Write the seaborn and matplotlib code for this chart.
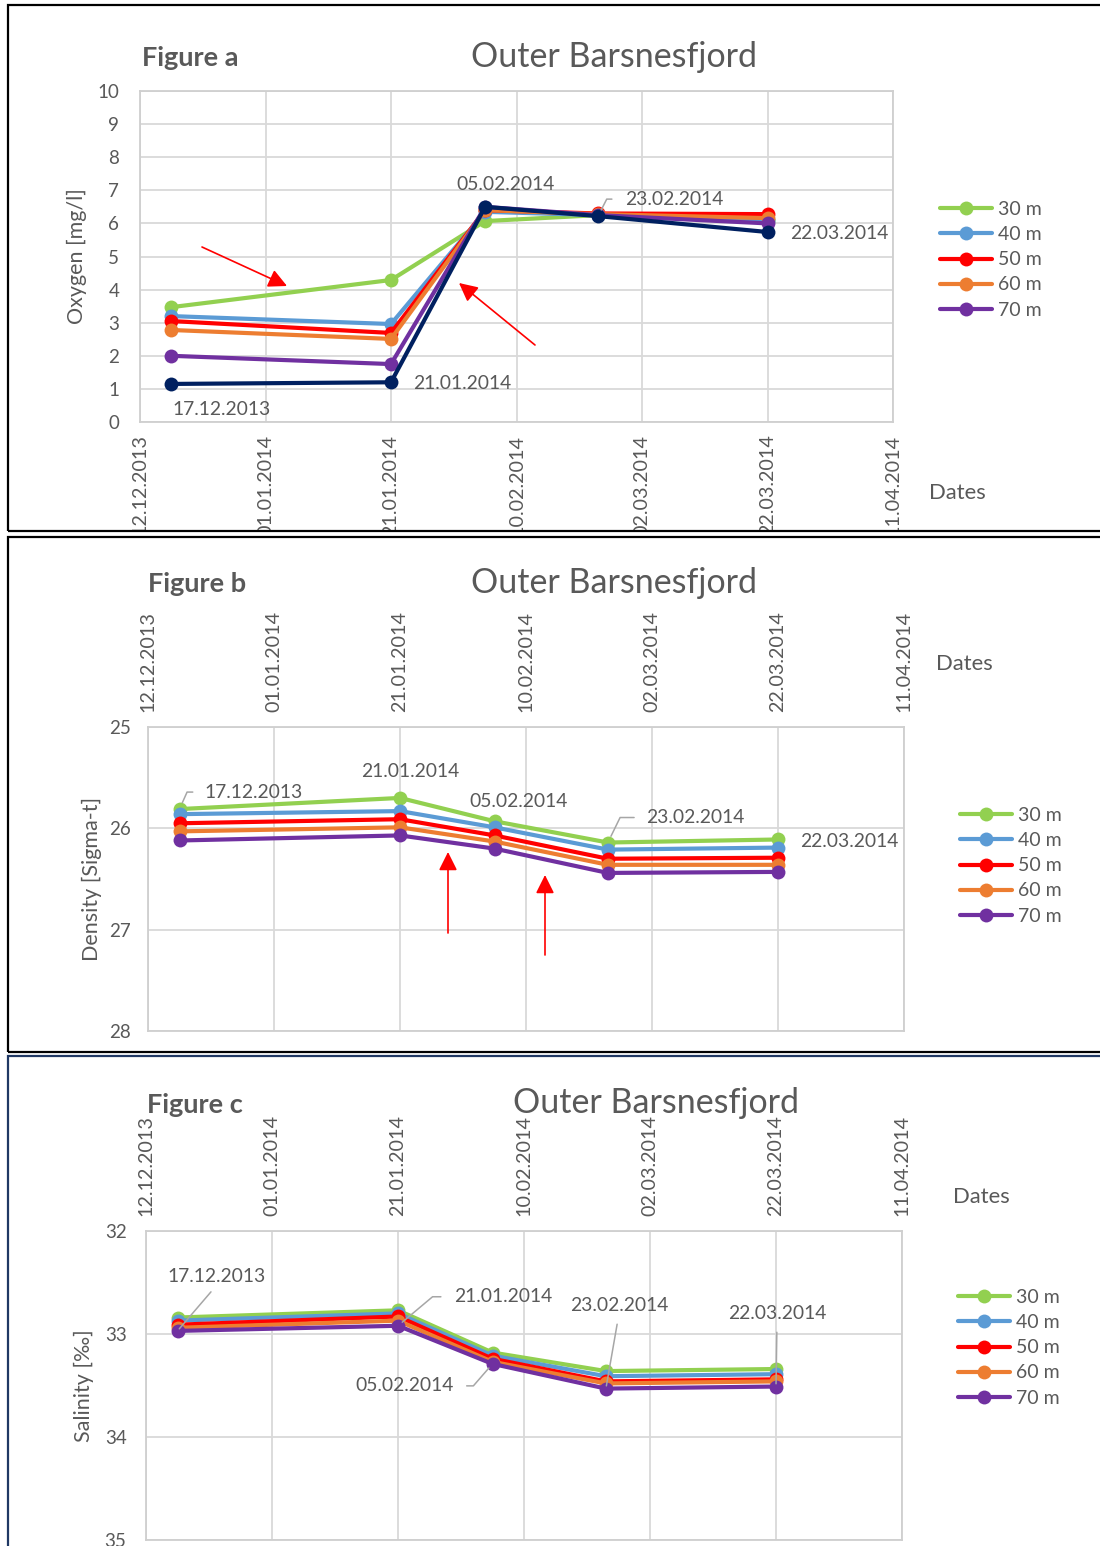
import matplotlib
matplotlib.use("Agg")
import matplotlib.pyplot as plt
import matplotlib.dates as mdates
from matplotlib.lines import Line2D
from matplotlib.patches import Rectangle, FancyArrowPatch
from matplotlib.transforms import Bbox, TransformedBbox
import seaborn as sns
import pandas as pd

# ---------------------------------------------------------------- data
sampling_dates = pd.to_datetime(["2013-12-17", "2014-01-21", "2014-02-05",
                                 "2014-02-23", "2014-03-22"])
date_labels = ["17.12.2013", "21.01.2014", "05.02.2014", "23.02.2014", "22.03.2014"]
axis_ticks = pd.date_range("2013-12-12", periods=7, freq="20D")

depths = ["30 m", "40 m", "50 m", "60 m", "70 m"]

# Oxygen [mg/l]
oxygen_30 = [3.47, 4.29, 6.07, 6.25, 6.10]
oxygen_40 = [3.20, 2.96, 6.35, 6.25, 6.10]
oxygen_50 = [3.05, 2.69, 6.40, 6.30, 6.28]
oxygen_60 = [2.78, 2.51, 6.40, 6.28, 6.16]
oxygen_70 = [2.00, 1.75, 6.50, 6.25, 6.00]
oxygen_deep = [1.15, 1.20, 6.50, 6.22, 5.74]

# Density [Sigma-t]
density_30 = [25.81, 25.70, 25.93, 26.14, 26.11]
density_40 = [25.86, 25.83, 25.99, 26.21, 26.19]
density_50 = [25.95, 25.91, 26.07, 26.30, 26.29]
density_60 = [26.03, 25.99, 26.13, 26.36, 26.36]
density_70 = [26.12, 26.07, 26.20, 26.44, 26.43]

# Salinity [‰]
salinity_30 = [32.84, 32.77, 33.18, 33.36, 33.34]
salinity_40 = [32.87, 32.80, 33.21, 33.41, 33.39]
salinity_50 = [32.91, 32.83, 33.24, 33.46, 33.44]
salinity_60 = [32.94, 32.87, 33.27, 33.48, 33.46]
salinity_70 = [32.97, 32.92, 33.29, 33.53, 33.51]

# ---------------------------------------------------------------- style
W, H = 1100, 1546
TEXT = "#595959"
GRID = "#D9D9D9"
depth_colors = ["#92D050", "#5B9BD5", "#FF0000", "#ED7D31", "#7030A0"]
deep_color = "#002060"
palette = dict(zip(depths, depth_colors))

sns.set_style("white")
plt.rcParams["font.family"] = ["Lato", "DejaVu Sans"]

fig = plt.figure(figsize=(W / 100, H / 100), dpi=100)


def fpos(x, y):
    """Pixel position (from top-left) to figure fraction."""
    return (x / W, 1 - y / H)


def rect(l, t, r, b):
    return [l / W, 1 - b / H, (r - l) / W, (b - t) / H]


def long_frame(series):
    rows = []
    for depth, vals in zip(depths, series):
        for d, v in zip(sampling_dates, vals):
            rows.append({"date": d, "value": v, "depth": depth})
    return pd.DataFrame(rows)


def draw_series(ax, series, extra=None):
    df = long_frame(series)
    sns.lineplot(data=df, x="date", y="value", hue="depth", hue_order=depths,
                 palette=palette, marker="o", markersize=10, markeredgewidth=0,
                 linewidth=3, estimator=None, legend=False, ax=ax, zorder=3)
    if extra is not None:
        dfx = pd.DataFrame({"date": sampling_dates, "value": extra})
        sns.lineplot(data=dfx, x="date", y="value", color=deep_color, marker="o",
                     markersize=10, markeredgewidth=0, linewidth=3,
                     estimator=None, legend=False, ax=ax, zorder=4)


def style_axes(ax, ylim, yticks, top_axis, xpad, ypad):
    ax.set_xlim(axis_ticks[0], axis_ticks[-1])
    ax.set_ylim(*ylim)
    ax.set_xticks(axis_ticks)
    ax.xaxis.set_major_formatter(mdates.DateFormatter("%d.%m.%Y"))
    ax.set_yticks(yticks)
    ax.grid(True, color=GRID, lw=1.3)
    ax.set_axisbelow(True)
    for s in ax.spines.values():
        s.set_color("#CFCFCF")
        s.set_linewidth(1.3)
    if top_axis:
        ax.xaxis.tick_top()
    ax.tick_params(axis="x", length=0, pad=xpad, labelsize=14.2, labelcolor=TEXT,
                   labelrotation=90)
    ax.tick_params(axis="y", length=0, pad=ypad, labelsize=13.5, labelcolor=TEXT)
    ax.set_xlabel("")


def point_label(ax, text, date, value, dx, dy, leader=None):
    """Date label placed dx, dy pixels (dy downward) from its point."""
    kw = dict(xy=(date, value), xytext=(dx, -dy), textcoords="offset pixels",
              ha="center", va="center", fontsize=13.9, color=TEXT, zorder=6)
    if leader is not None:
        conn, relpos, sa, sb = leader
        kw["arrowprops"] = dict(arrowstyle="-", color="#A6A6A6", lw=1.1,
                                connectionstyle=conn, relpos=relpos,
                                shrinkA=sa, shrinkB=sb)
    ax.annotate(text, **kw)


def red_arrow(tail, tip):
    fig.add_artist(FancyArrowPatch(
        fpos(*tail), fpos(*tip), transform=fig.transFigure,
        arrowstyle="-|>", color="red", lw=1.2, mutation_scale=28,
        shrinkA=0, shrinkB=0, zorder=8))


def legend_at(x, y):
    handles = [Line2D([], [], color=c, lw=3, marker="o", markersize=10,
                      markeredgewidth=0) for c in depth_colors]
    fig.legend(handles, depths, loc="upper left", bbox_to_anchor=fpos(x, y),
               bbox_transform=fig.transFigure, frameon=False, fontsize=14,
               labelcolor=TEXT, handlelength=2.65, handletextpad=0.35,
               labelspacing=0.42, borderpad=0, borderaxespad=0)


def headings(letter, fig_x, fig_y, title_x, title_y, dates_x, dates_y):
    fig.text(*fpos(fig_x, fig_y), f"Figure {letter}", fontsize=19.5,
             fontweight="bold", color=TEXT, ha="left", va="center")
    fig.text(*fpos(title_x, title_y), "Outer Barsnesfjord", fontsize=24.5,
             color=TEXT, ha="center", va="center")
    fig.text(*fpos(dates_x, dates_y), "Dates", fontsize=15.8, color=TEXT,
             ha="center", va="center")


# ---------------------------------------------------------------- panel borders
for (t, b, col) in [(5, 531, "black"), (537, 1052, "black"), (1056, 1570, "#203864")]:
    fig.add_artist(Rectangle(fpos(8, b), (1110 - 8) / W, (b - t) / H,
                             transform=fig.transFigure, fill=False,
                             edgecolor=col, lw=1.6, zorder=10))

# ---------------------------------------------------------------- a: oxygen
ax_a = fig.add_axes(rect(140, 91, 893, 422))
draw_series(ax_a, [oxygen_30, oxygen_40, oxygen_50, oxygen_60, oxygen_70], oxygen_deep)
style_axes(ax_a, (0, 10), range(0, 11), False, 9, 15)
ax_a.set_ylabel("Oxygen [mg/l]", fontsize=15.5, color=TEXT)
ax_a.yaxis.label.set_va("center")
ax_a.yaxis.set_label_coords((77 - 140) / 753, 0.5)
clip = TransformedBbox(Bbox.from_extents(0, 1 - 531 / H, 1, 1), fig.transFigure)
for lbl in ax_a.get_xticklabels():
    lbl.set_clip_box(clip)
    lbl.set_clip_on(True)

d = sampling_dates
point_label(ax_a, date_labels[0], d[0], oxygen_deep[0], 50, 26)
point_label(ax_a, date_labels[1], d[1], oxygen_deep[1], 71, 1)
point_label(ax_a, date_labels[2], d[2], oxygen_deep[2], 20, -22)
point_label(ax_a, date_labels[3], d[3], oxygen_deep[3], 76, -17,
            ("angle,angleA=0,angleB=63,rad=0", (0, 0.5), 7, 5))
point_label(ax_a, date_labels[4], d[4], oxygen_deep[4], 72, 1)
headings("a", 142, 58, 614, 57, 957, 493)
legend_at(940, 201)
red_arrow((202, 247), (287, 286))
red_arrow((535, 345), (459, 283))

# ---------------------------------------------------------------- b: density
ax_b = fig.add_axes(rect(148, 727, 904, 1031))
draw_series(ax_b, [density_30, density_40, density_50, density_60, density_70])
style_axes(ax_b, (28, 25), [25, 26, 27, 28], True, 11, 12)
ax_b.set_ylabel("Density [Sigma-t]", fontsize=15.5, color=TEXT)
ax_b.yaxis.label.set_va("center")
ax_b.yaxis.set_label_coords((92 - 148) / 756, 0.5)

point_label(ax_b, date_labels[0], d[0], density_30[0], 74, -17,
            ("angle,angleA=0,angleB=66,rad=0", (0, 0.5), 6, 5))
point_label(ax_b, date_labels[1], d[1], density_30[1], 10, -26)
point_label(ax_b, date_labels[2], d[2], density_30[2], 24, -20)
point_label(ax_b, date_labels[3], d[3], density_30[3], 87, -25,
            ("angle,angleA=0,angleB=64,rad=0", (0, 0.5), 6, 5))
point_label(ax_b, date_labels[4], d[4], density_30[4], 71, 2)
headings("b", 148, 584, 614, 583, 964, 664)
legend_at(960, 807)
red_arrow((448, 933), (448, 852))
red_arrow((545, 955), (545, 875))

# ---------------------------------------------------------------- c: salinity
ax_c = fig.add_axes(rect(146, 1231, 902, 1540))
draw_series(ax_c, [salinity_30, salinity_40, salinity_50, salinity_60, salinity_70])
style_axes(ax_c, (35, 32), [32, 33, 34, 35], True, 11, 14)
ax_c.set_ylabel("Salinity [‰]", fontsize=15.5, color=TEXT)
ax_c.yaxis.label.set_va("center")
ax_c.yaxis.set_label_coords((84 - 146) / 756, 0.5)

point_label(ax_c, date_labels[0], d[0], salinity_70[0], 39, -54,
            ("arc3", (0.5, 0), 3, 2))
point_label(ax_c, date_labels[1], d[1], salinity_70[1], 105, -29,
            ("angle,angleA=0,angleB=40,rad=0", (0, 0.5), 7, 4))
point_label(ax_c, date_labels[2], d[2], salinity_70[2], -88, 22,
            ("angle,angleA=0,angleB=-131,rad=0", (1, 0.5), 7, 4))
point_label(ax_c, date_labels[3], d[3], salinity_70[3], 13, -83,
            ("arc3", (0.5, 0), 5, 2))
point_label(ax_c, date_labels[4], d[4], salinity_70[4], 1, -73,
            ("arc3", (0.5, 0), 5, 2))
headings("c", 147, 1105, 656, 1103, 981, 1197)
legend_at(958, 1289)

fig.savefig("out.png", dpi=100)
